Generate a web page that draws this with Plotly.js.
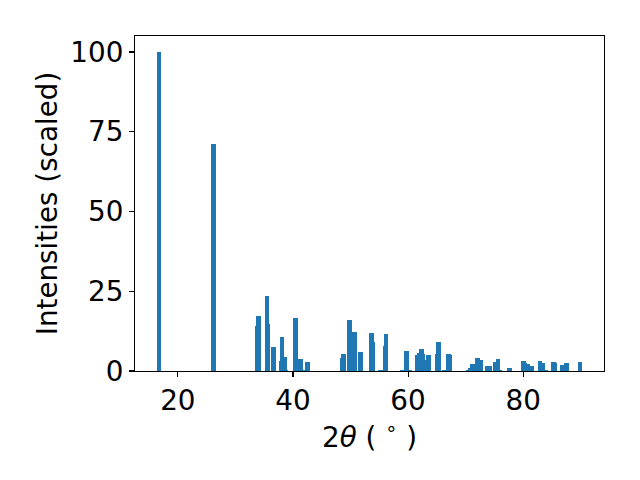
<!DOCTYPE html>
<html>
<head>
<meta charset="utf-8">
<script src="https://cdn.plot.ly/plotly-3.0.1.min.js"></script>
<style>html,body{margin:0;padding:0;background:#fff;}#chart{width:640px;height:480px;}</style>
</head>
<body>
<div id="chart"></div>
<script>
// 2-theta peak positions (degrees)
const twoTheta = [16.7, 26.2, 33.8, 34.0, 35.5, 35.6, 36.6, 38.0, 38.1, 38.5, 38.7,
  40.4, 41.3, 41.8, 42.5, 48.6, 48.8, 49.8, 50.7, 51.7, 53.65, 53.85, 55.2, 56.05, 56.2,
  59.0, 59.7, 60.3, 61.6, 61.95, 62.3, 62.55, 62.75, 63.6, 65.1, 65.3, 66.3, 67.0, 67.25,
  70.5, 70.9, 71.25, 72.05, 72.6, 73.7, 74.1, 75.2, 75.6, 76.0, 77.65,
  80.05, 80.3, 80.8, 81.5, 82.9, 83.4, 84.0, 85.3, 85.5, 86.8, 87.55, 89.9];
// scaled intensities
const intensity = [100, 71, 14.1, 17.2, 23.5, 14.7, 7.5, 3.1, 10.7, 4.4, 0.3,
  16.6, 3.8, 0.3, 2.8, 4.1, 5.3, 16.0, 12.2, 6.0, 11.9, 9.1, 0.4, 7.8, 11.6,
  0.4, 6.3, 0.3, 5.0, 5.6, 6.9, 5.3, 3.4, 5.0, 5.2, 9.1, 0.3, 5.3, 5.0,
  0.3, 0.9, 2.2, 4.1, 3.4, 1.6, 1.6, 2.8, 3.8, 0.3, 0.9,
  3.1, 2.5, 2.2, 1.6, 3.1, 2.5, 0.4, 2.8, 2.5, 1.9, 2.5, 2.8];
const xTicks = [20, 40, 60, 80];
const yTicks = [0, 25, 50, 75, 100];

const FONT = 'DejaVu Sans, sans-serif';
const FS = 27.8;

const trace = {
  type: 'bar',
  x: twoTheta,
  y: intensity,
  width: twoTheta.map(() => 0.8),
  marker: {color: '#1f77b4', line: {width: 0}},
  hoverinfo: 'skip'
};

const axisCommon = {
  showgrid: false, zeroline: false,
  showline: true, linecolor: '#000', linewidth: 1.1, mirror: true,
  ticks: 'outside', ticklen: 5, tickwidth: 1.1, tickcolor: '#000',
  tickfont: {family: FONT, size: FS, color: '#000'},
  automargin: true
};

const layout = {
  width: 640, height: 480,
  margin: {l: 135, r: 36, t: 36, b: 109},
  paper_bgcolor: '#fff', plot_bgcolor: '#fff',
  showlegend: false,
  bargap: 0,
  barmode: 'overlay',
  font: {family: FONT, size: FS, color: '#000'},
  xaxis: Object.assign({}, axisCommon, {
    range: [12.55, 94.05],
    tickvals: xTicks,
    ticktext: xTicks.map(String),
    title: {text: '2<i>θ</i> ( <sup>∘</sup> )', font: {family: FONT, size: FS, color: '#000'}, standoff: 0}
  }),
  yaxis: Object.assign({}, axisCommon, {
    range: [0, 105],
    tickvals: yTicks,
    ticktext: yTicks.map(String),
    title: {text: 'Intensities (scaled)', font: {family: FONT, size: FS, color: '#000'}, standoff: 4}
  })
};

Plotly.newPlot('chart', [trace], layout, {staticPlot: true, displayModeBar: false});
</script>
</body>
</html>
